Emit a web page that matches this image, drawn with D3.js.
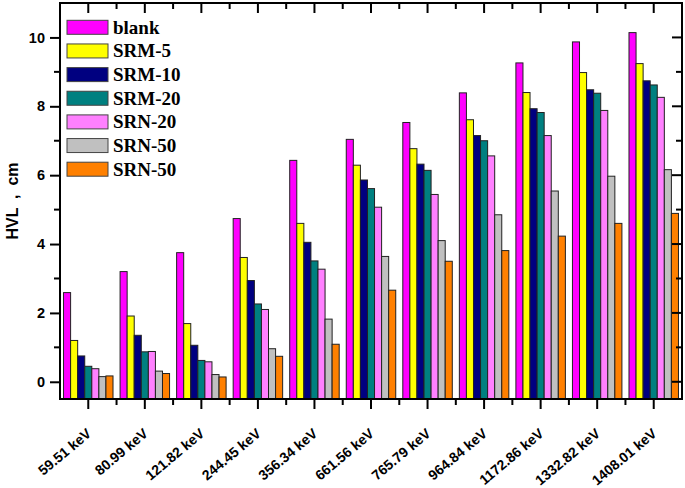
<!DOCTYPE html>
<meta charset="utf-8">
<title>HVL by energy</title>
<script src="https://d3js.org/d3.v7.min.js"></script>
<body style="margin:0; background:#fff;">
<div id="chart"></div>
</body>
<script>
// energies (x categories)
const categories = ["59.51 keV", "80.99 keV", "121.82 keV", "244.45 keV", "356.34 keV",
  "661.56 keV", "765.79 keV", "964.84 keV", "1172.86 keV", "1332.82 keV", "1408.01 keV"];

// legend names (the last two are both labelled SRN-50 in the original)
const seriesNames = ["blank", "SRM-5", "SRM-10", "SRM-20", "SRN-20", "SRN-50", "SRN-50"];
const seriesColors = ["#ff00ff", "#ffff00", "#000080", "#008080", "#ff80ff", "#c0c0c0", "#ff8000"];

// HVL values, cm
const blank  = [2.59, 3.20, 3.75, 4.74, 6.43, 7.04, 7.53, 8.39, 9.26, 9.87, 10.14];
const srm5   = [1.20, 1.91, 1.69, 3.61, 4.60, 6.29, 6.77, 7.61, 8.40, 8.98, 9.24];
const srm10  = [0.75, 1.35, 1.06, 2.94, 4.05, 5.86, 6.32, 7.15, 7.93, 8.48, 8.74];
const srm20  = [0.45, 0.87, 0.62, 2.26, 3.51, 5.61, 6.14, 7.00, 7.82, 8.38, 8.62];
const srn20  = [0.38, 0.88, 0.58, 2.10, 3.27, 5.07, 5.44, 6.56, 7.15, 7.88, 8.26];
const srn50  = [0.15, 0.31, 0.21, 0.96, 1.82, 3.64, 4.10, 4.85, 5.54, 5.97, 6.16];
const srn50b = [0.17, 0.24, 0.14, 0.74, 1.09, 2.66, 3.50, 3.81, 4.23, 4.60, 4.89];

const seriesValues = [blank, srm5, srm10, srm20, srn20, srn50, srn50b];

const yMajor = [0, 2, 4, 6, 8, 10];
const yMinor = [1, 3, 5, 7, 9];

width = 685
height = 488
margin = {top: 3, right: 3, bottom: 89, left: 60}

svg = d3.select("#chart").append("svg")
    .attr("width", width)
    .attr("height", height)
    .style("display", "block")

x = d3.scaleBand()
    .domain(categories)
    .range([margin.left, width - margin.right])

xSub = d3.scaleBand()
    .domain(d3.range(seriesNames.length))
    .range([0, x.bandwidth()])
    .paddingOuter(0.5)

y = d3.scaleLinear()
    .domain([-0.5, 11])
    .range([height - margin.bottom, margin.top])

const bottom = height - margin.bottom
const mid = d => x(d) + x.bandwidth() / 2

// bars, drawn up from the bottom of the frame
svg.append("g")
    .selectAll("g")
    .data(categories)
    .join("g")
    .attr("transform", d => `translate(${x(d)},0)`)
  .selectAll("rect")
  .data((c, ci) => seriesValues.map((vals, si) => ({si, v: vals[ci]})))
  .join("rect")
    .attr("x", d => xSub(d.si))
    .attr("width", xSub.bandwidth())
    .attr("y", d => y(d.v))
    .attr("height", d => bottom - y(d.v))
    .attr("fill", d => seriesColors[d.si])
    .attr("stroke", "#222")
    .attr("stroke-width", 1)

const axisFont = "Liberation Sans, Arial, sans-serif"

// bottom axis: major ticks at centres, minor ticks at band edges
const gx = svg.append("g")
    .attr("transform", `translate(0,${bottom})`)
gx.append("g")
    .selectAll("line")
    .data(categories)
    .join("line")
    .attr("x1", mid).attr("x2", mid)
    .attr("y1", 0).attr("y2", 10)
    .attr("stroke", "#000").attr("stroke-width", 2)
gx.append("g")
    .selectAll("line")
    .data(categories.slice(1))
    .join("line")
    .attr("x1", d => x(d)).attr("x2", d => x(d))
    .attr("y1", 0).attr("y2", 6)
    .attr("stroke", "#000").attr("stroke-width", 2)
gx.append("g")
    .selectAll("text")
    .data(categories)
    .join("text")
    .attr("transform", d => `translate(${mid(d) + 4},36) rotate(-40)`)
    .attr("text-anchor", "end")
    .attr("font-family", axisFont)
    .attr("font-weight", "bold")
    .attr("font-size", 14)
    .text(d => d)

// top axis ticks pointing inward
const gt = svg.append("g")
    .attr("transform", `translate(0,${margin.top})`)
gt.append("g").selectAll("line")
    .data(categories)
    .join("line")
    .attr("x1", mid).attr("x2", mid)
    .attr("y1", 0).attr("y2", 10)
    .attr("stroke", "#000").attr("stroke-width", 2)
gt.append("g").selectAll("line")
    .data(categories.slice(1))
    .join("line")
    .attr("x1", d => x(d)).attr("x2", d => x(d))
    .attr("y1", 0).attr("y2", 6)
    .attr("stroke", "#000").attr("stroke-width", 2)

// left axis
const gy = svg.append("g")
    .attr("transform", `translate(${margin.left},0)`)
gy.call(d3.axisLeft(y).tickValues(yMajor).tickSize(10).tickPadding(5).tickFormat(d3.format("d")))
gy.select(".domain").remove()
gy.selectAll(".tick line").attr("stroke-width", 2)
gy.selectAll(".tick text")
    .attr("font-family", axisFont)
    .attr("font-weight", "bold")
    .attr("font-size", 14.5)
    .attr("fill", "#000")
gy.append("g").selectAll("line")
    .data(yMinor)
    .join("line")
    .attr("x1", -6).attr("x2", 0)
    .attr("y1", d => y(d)).attr("y2", d => y(d))
    .attr("stroke", "#000").attr("stroke-width", 2)

// right axis ticks pointing inward
const gr = svg.append("g")
    .attr("transform", `translate(${width - margin.right},0)`)
gr.selectAll("line")
    .data(yMajor.concat(yMinor))
    .join("line")
    .attr("x1", d => yMajor.includes(d) ? -10 : -6).attr("x2", 0)
    .attr("y1", d => y(d)).attr("y2", d => y(d))
    .attr("stroke", "#000").attr("stroke-width", 2)

// frame
svg.append("rect")
    .attr("x", margin.left)
    .attr("y", margin.top)
    .attr("width", width - margin.left - margin.right)
    .attr("height", bottom - margin.top)
    .attr("fill", "none")
    .attr("stroke", "#000")
    .attr("stroke-width", 2)

// y title
svg.append("text")
    .attr("transform", `translate(18,${(margin.top + bottom) / 2}) rotate(-90)`)
    .attr("text-anchor", "middle")
    .attr("font-family", axisFont)
    .attr("font-weight", "bold")
    .attr("font-size", 16)
    .style("white-space", "pre")
    .text("HVL  ,  cm")

// legend
const legend = svg.append("g")
    .selectAll("g")
    .data(seriesNames)
    .join("g")
    .attr("transform", (d, i) => `translate(67,${27.3 + i * 23.65})`)
legend.append("rect")
    .attr("x", 0).attr("y", -7)
    .attr("width", 41).attr("height", 14)
    .attr("fill", (d, i) => seriesColors[i])
    .attr("stroke", "#444")
    .attr("stroke-width", 1)
legend.append("text")
    .attr("x", 46)
    .attr("y", 6.5)
    .attr("font-family", "Liberation Serif, Times New Roman, serif")
    .attr("font-weight", "bold")
    .attr("font-size", 19)
    .text(d => d)
</script>
